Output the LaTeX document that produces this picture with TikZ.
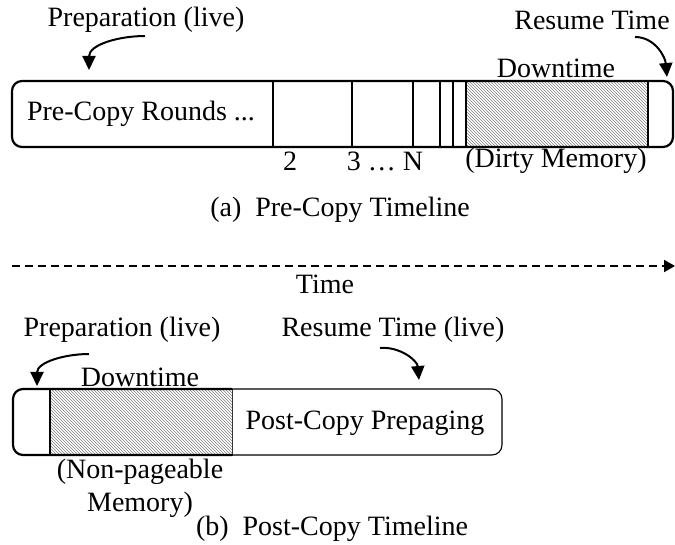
\documentclass[tikz,border=0pt]{standalone}
\usepackage{fontspec}
\setmainfont{Liberation Serif}
\usetikzlibrary{patterns,arrows.meta}
\tikzset{
  lbl/.style={inner sep=0pt, font=\fontsize{28}{33}\selectfont},
  thickbox/.style={draw=black, line width=2.2pt, rounded corners=10pt},
  thinbox/.style={draw=black, line width=1.1pt, rounded corners=10pt},
  hatch/.style={pattern=north west lines, pattern color=gray, draw=black!80, line width=0.9pt},
  sep/.style={draw=black, line width=2.2pt},
  curvearrow/.style={line width=2pt, -{Triangle[width=13pt,length=14pt]}},
}
\begin{document}
\begin{tikzpicture}[x=1pt,y=-1pt]
\useasboundingbox (0,0) rectangle (675,545);
% ---------- (a) pre-copy
\draw[hatch] (466,81) rectangle (648,147);
\draw[thickbox] (12,81) rectangle (673,147);
\foreach \xx in {273,352,413,440,453}{\draw[sep] (\xx,81) -- (\xx,147);}
\draw[line width=2.2pt] (466,81) -- (466,147);
\draw[line width=1.1pt] (648,81) -- (648,147);
\node[lbl] (prerounds) at (141,114) {Pre-Copy Rounds ...};
\node[lbl] (two) at (290,161) {2};
\node[lbl] (threen) at (385,161) {3 … N};
\node[lbl] (dirty) at (556,161) {(Dirty Memory)};
\node[lbl] (downa) at (556,68) {Downtime};
\node[lbl] (prepa) at (146,20) {Preparation (live)};
\node[lbl] (resa) at (592,20) {Resume Time};
\coordinate (prepatip) at (89,70);
\coordinate (resatip) at (667,77);
\draw[curvearrow] (145,36) to[out=180,in=90] (prepatip);
\draw[curvearrow] (635,37) to[out=0,in=95] (resatip);
\node[lbl] (capa) at (340,210) {(a)\ \ Pre-Copy Timeline};
% ---------- time axis
\coordinate (t0) at (12,266);
\coordinate (t1) at (675,266);
\draw[line width=2pt, dash pattern=on 8pt off 5pt, -{Triangle[width=12pt,length=11pt]}] (t0) -- (t1);
\node[lbl] (time) at (325,284) {Time};
% ---------- (b) post-copy
\draw[hatch] (50,389) rectangle (232,455);
\draw[thinbox] (232,389) -- (502,389) -- (502,455) -- (232,455);
\draw[thickbox] (232,389) -- (13,389) -- (13,455) -- (232,455);
\draw[line width=1.1pt] (50,389) -- (50,455);
\node[lbl] (prepb) at (122,330) {Preparation (live)};
\node[lbl] (resb) at (393,330) {Resume Time (live)};
\node[lbl] (downb) at (140,377) {Downtime};
\node[lbl] (postpre) at (365,423) {Post-Copy Prepaging};
\node[lbl] (nonpage) at (140,472) {(Non-pageable};
\node[lbl] (mem) at (140,505) {Memory)};
\node[lbl] (capb) at (332,529) {(b)\ \ Post-Copy Timeline};
\coordinate (prepbtip) at (37,386);
\coordinate (resbtip) at (419,380);
\draw[curvearrow] (89,354) to[out=180,in=90] (prepbtip);
\draw[curvearrow] (380,348) to[out=5,in=95] (resbtip);
\end{tikzpicture}
\end{document}
